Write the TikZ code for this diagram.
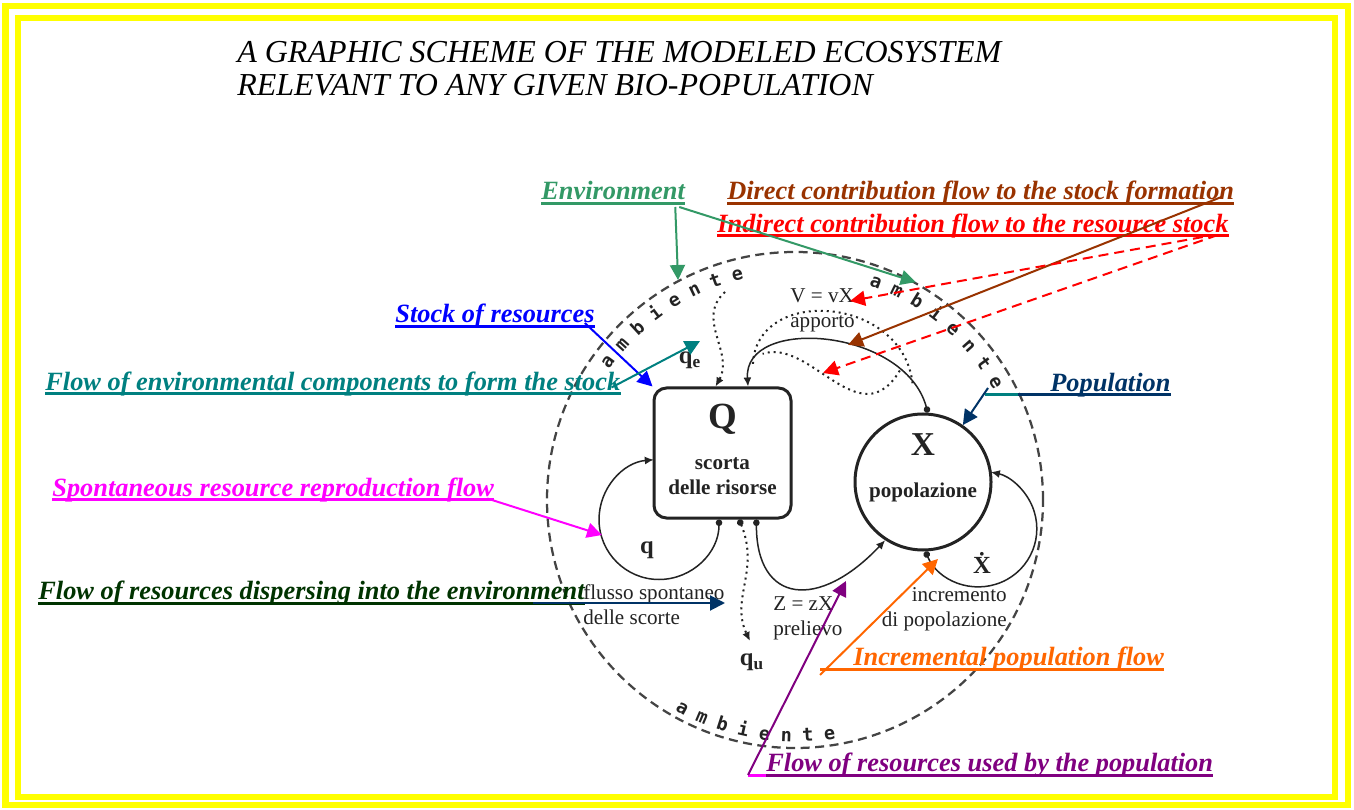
\documentclass[tikz,border=0pt]{standalone}
\usepackage{fontspec}
\setmainfont{Liberation Serif}
\newfontfamily\ambfont{DejaVu Sans Mono}
\usetikzlibrary{arrows.meta, positioning, calc, decorations.text}

\definecolor{frameyellow}{RGB}{255, 255, 0}
\definecolor{envgreen}{RGB}{51, 153, 102}
\definecolor{directbrown}{RGB}{153, 51, 0}
\definecolor{indirectred}{RGB}{255, 0, 0}
\definecolor{stockblue}{RGB}{0, 0, 255}
\definecolor{flowteal}{RGB}{0, 128, 128}
\definecolor{popnavy}{RGB}{0, 51, 102}
\definecolor{spontpink}{RGB}{255, 0, 255}
\definecolor{dispgreen}{RGB}{0, 51, 0}
\definecolor{incrorange}{RGB}{255, 102, 0}
\definecolor{usedpurple}{RGB}{128, 0, 128}
\definecolor{ink}{RGB}{35, 35, 35}

\begin{document}
\begin{tikzpicture}[
    x=0.2mm, y=0.2mm,
    title/.style={anchor=base west, inner sep=0pt, font=\fontsize{18.2}{18.2}\selectfont\itshape},
    lbl/.style={anchor=base west, inner sep=0pt, font=\fontsize{15}{18}\selectfont\bfseries\itshape},
    arr/.style={-{Triangle[length=3mm, width=3mm]}, line width=0.4mm},
    dasharr/.style={arr, dash pattern=on 2mm off 1.2mm},
    ulw/.style={line width=0.6mm},
    ambring/.style={circle, draw=ink!85, line width=0.45mm, dash pattern=on 1.8mm off 1.1mm,
                    minimum size=99.2mm, inner sep=0pt},
    ambtext/.style={decorate, decoration={text along path, text align=center, text color=ink,
                    text={|\ambfont\bfseries\fontsize{10.5}{10.5}\selectfont|a m b i e n t e}}},
    stockbox/.style={draw=ink, line width=0.6mm, rounded corners=2.5mm,
                     minimum width=27.4mm, minimum height=26mm, inner sep=0pt},
    popcircle/.style={circle, draw=ink, line width=0.6mm, minimum size=27.2mm, inner sep=0pt},
    boxtext/.style={align=center, inner sep=0pt, text=ink, font=\fontsize{12}{14}\selectfont\bfseries},
    txt/.style={inner sep=0pt, text=ink, font=\fontsize{12}{14.5}\selectfont},
    sym/.style={inner sep=0pt, text=ink, font=\fontsize{14}{14}\selectfont\bfseries},
    flow/.style={ink, line width=0.3mm, {Circle[length=1.3mm]}-{Latex[length=1.8mm, width=1.6mm]}},
    info/.style={ink, line width=0.4mm, dash pattern=on 0.4mm off 0.8mm}
]
    % frame
    \fill[white] (0,0) rectangle (1354,809);
    \draw[frameyellow, line width=1.2mm] (5.5,4) rectangle (1347.5,803);
    \draw[frameyellow, line width=1.2mm] (18,12) rectangle (1334.5,791);
    \useasboundingbox (0,0) rectangle (1354,809);

    \node[title] (title1) at (237,746) {A GRAPHIC SCHEME OF THE MODELED ECOSYSTEM};
    \node[title] (title2) at (237,713) {RELEVANT TO ANY GIVEN BIO-POPULATION};

    % the ecosystem
    \node[ambring] (amb) at (795,309) {};
    \path[ambtext] ($(amb.center)+(147:227)$) arc[start angle=147, end angle=101, radius=227];
    \path[ambtext] ($(amb.center)+(73:227)$) arc[start angle=73, end angle=27, radius=227];
    \path[ambtext] ($(amb.center)+(237:242)$) arc[start angle=237, end angle=283, radius=242];

    \node[stockbox] (Q) at (722.5,356) {};
    \node[boxtext] (Qtext) at (722.5,360) {{\fontsize{21}{21}\selectfont Q}\\[3.4mm]scorta\\delle risorse};
    \node[popcircle] (X) at (923,327) {};
    \node[boxtext] (Xtext) at (923,341) {{\fontsize{19}{19}\selectfont X}\\[3.4mm]popolazione};

    \coordinate (qe-src) at (725,517);
    \coordinate (qu-sink) at (750,168);
    \coordinate (q-tip) at (602,274);
    \coordinate (z-tip) at (846,228);
    \coordinate (incr-tip) at (938,250);
    \coordinate (v-tip) at (850,508);
    \coordinate (w-tip) at (823,436);
    \coordinate (qu-tip) at (725,206);
    \coordinate (qe-tip) at (700,468);

    \draw[flow] (Q.267) arc[start angle=0, end angle=-265, radius=60];
    \draw[flow] (Q.297) .. controls +(0,-85) and +(-66,-70) .. (X.237);
    \draw[flow] (X.272) arc[start angle=203, end angle=438, radius=58];
    \draw[flow] (X.86) .. controls +(-23,85) and +(-5,71) .. (Q.69)
        coordinate[pos=0.13] (app-a) coordinate[pos=0.2] (app-b)
        coordinate[pos=0.42] (app-top)
        coordinate[pos=0.8] (app-c) coordinate[pos=0.88] (app-d);

    \draw[info] (app-a) .. controls +(-10,88) and +(3,79) .. (app-d);
    \draw[info] (app-b) .. controls +(-40,-67) and +(48,16) .. (app-c);
    \draw[info, -{Latex[length=1.8mm, width=1.6mm]}] (qe-src) .. controls +(-30,-27) and +(19,34) .. (Q.96);
    \draw[info, {Circle[length=1.3mm]}-{Latex[length=1.8mm, width=1.6mm]}] (Q.284) .. controls +(21,-51) and +(-20,42) .. (qu-sink);

    \node[sym] (qlbl) at (647,259) {q};
    \node[sym] (qe) at (690,449) {q\textsubscript{e}};
    \node[sym] (qu) at (752,147) {q\textsubscript{u}};
    \node[sym] (xdot) at (982,246) {\.X};
    \node[txt, align=left, anchor=north west] (flussolbl) at (583,225) {flusso spontaneo\\delle scorte};
    \node[txt, align=left, anchor=north west] (zlbl) at (773,213) {Z = zX\\prelievo};
    \node[txt, align=left, anchor=north west] (vlbl) at (790,521) {V = vX\\apporto};
    \node[txt, align=right, anchor=north east] (incrlbl) at (1007,222) {incremento\\di popolazione};

    % annotations
    \node[lbl, envgreen] (env) at (541,609) {Environment};
    \node[lbl, directbrown] (direct) at (727,609) {Direct contribution flow to the stock formation};
    \node[lbl, indirectred] (indirect) at (717,576.5) {Indirect contribution flow to the resource stock};
    \node[lbl, stockblue] (stock) at (395,486) {Stock of resources};
    \node[lbl, flowteal] (envflow) at (45,418.5) {Flow of environmental components to form the stock};
    \node[lbl, popnavy] (pop) at (1050,417.5) {Population};
    \node[lbl, spontpink] (spont) at (52,312.5) {Spontaneous resource reproduction flow};
    \node[lbl, dispgreen] (disp) at (38,209.5) {Flow of resources dispersing into the environment};
    \node[lbl, incrorange] (incr) at (853,143.5) {Incremental population flow};
    \node[lbl, usedpurple] (used) at (766,37.5) {Flow of resources used by the population};

    % underlines
    \foreach \n/\c in {env/envgreen, direct/directbrown, indirect/indirectred, stock/stockblue,
                       envflow/flowteal, spont/spontpink, disp/dispgreen, used/usedpurple}
        \draw[ulw, \c] ([yshift=-0.7mm]\n.base west) -- ([yshift=-0.7mm]\n.base east);
    \draw[ulw, popnavy] ([yshift=-0.7mm]pop.base east) -- ([yshift=-0.7mm]pop.base west) -- ++(-32,0) coordinate (pop-ul);
    \draw[ulw, flowteal] (pop-ul) -- ++(-33,0) coordinate (pop-start);
    \draw[ulw, incrorange] ([yshift=-0.7mm]incr.base east) -- ([yshift=-0.7mm]incr.base west) -- ++(-33,0) coordinate (incr-start);
    \draw[ulw, spontpink] ([yshift=-0.7mm]used.base west) -- ++(-18,0) coordinate (used-start);

    \draw[arr, envgreen] ($(env.base east)+(-10,-7)$) -- (amb.118);
    \draw[arr, envgreen] ($(env.base east)+(-6,-7)$) -- (amb.61);
    \draw[arr, directbrown] ($(direct.base east)+(-13,3)$) -- (app-top);
    \draw[dasharr, indirectred] ($(indirect.base east)+(-26,-4.5)$) -- (v-tip);
    \draw[dasharr, indirectred] ($(indirect.base east)+(-11,-2.5)$) -- (w-tip);
    \draw[arr, stockblue] ($(stock.base east)+(-10,0)$) -- (Q.north west);
    \draw[arr, flowteal] ($(envflow.base east)+(-9,3)$) -- (qe-tip);
    \draw[arr, popnavy] ($(pop-start)+(3,7)$) -- (X.55);
    \draw[arr, spontpink] ($(spont.base east)+(-7,-2)$) -- (q-tip);
    \draw[arr, popnavy] ($(disp.base east)+(-52,-3.5)$) -- (qu-tip);
    \draw[arr, incrorange] ($(incr-start)+(0,-6)$) -- (incr-tip);
    \draw[arr, usedpurple] (used-start) -- (z-tip);
\end{tikzpicture}
\end{document}
